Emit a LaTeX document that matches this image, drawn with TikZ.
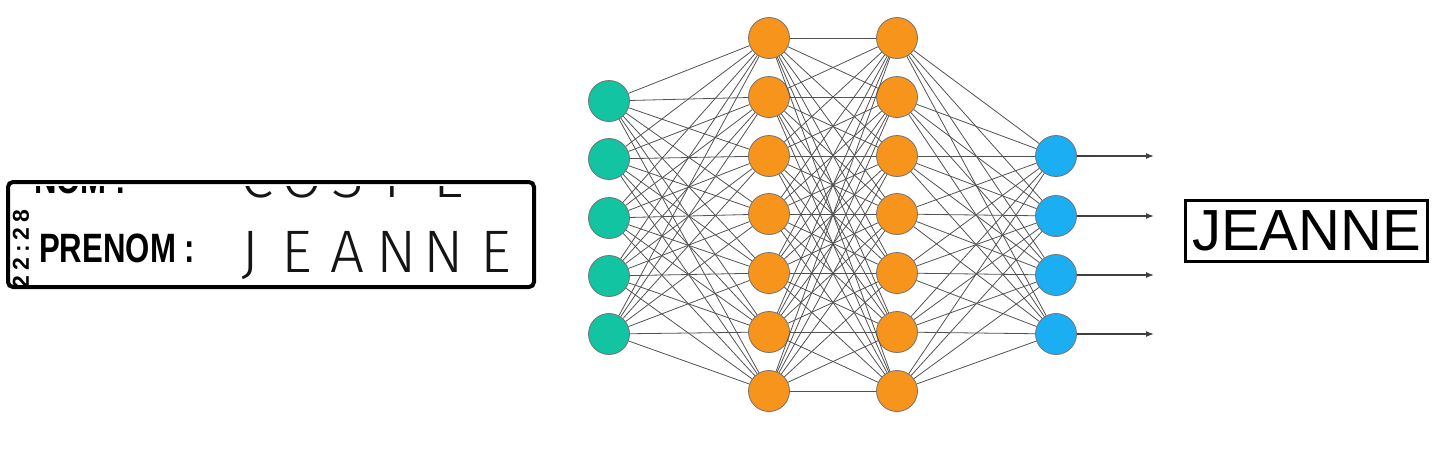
\documentclass[tikz,border=0pt]{standalone}
\usepackage{fontspec}
\setmainfont{Liberation Sans}
\newfontfamily\handfont{Fira Sans Light}
\newfontfamily\formfont[FakeStretch=0.76]{Liberation Sans}
\usetikzlibrary{arrows.meta}
\definecolor{ingreen}{RGB}{18,196,162}
\definecolor{hidorange}{RGB}{247,148,28}
\definecolor{outblue}{RGB}{28,174,242}
\begin{document}
\begin{tikzpicture}
[x=1pt,y=-1pt,
  neuron/.style={shape=circle,minimum size=41pt,inner sep=0pt,draw=black!55,line width=0.8pt},%
  weightline/.style={-,line width=0.8pt,draw=black!68},%
  outarrow/.style={-{Latex[length=8pt,width=6pt]},line width=1.2pt,draw=black!75},%
  handletter/.style={anchor=base,inner sep=0pt,text=black!92,font=\handfont\fontsize{60}{60}\selectfont},%
  formlabel/.style={anchor=base west,inner sep=0pt,font=\formfont\bfseries\fontsize{41}{41}\selectfont}]
\useasboundingbox (0,0) rectangle (1441,466);
%% scanned form
\begin{scope}
\clip (10,186) rectangle (532,285);
\node (nomlabel) at (34,193) [formlabel] {NOM :};
\node (prenomlabel) at (39,262) [formlabel] {PRENOM :};
\node (stamp) at (21,249) [rotate=90,inner sep=0pt,font=\bfseries\fontsize{23}{23}\selectfont\addfontfeature{LetterSpace=22}] {22:28};
\foreach \letter/\x in {C/257, O/302, S/348, T/392, E/449} {
  \node (nom\letter) at (\x,197) [handletter] {\letter};
}
\foreach \letter/\x in {J/250, E/297, A/347, N/397, N/444, E/496} {
  \node (prenom\x) at (\x,272) [handletter] {\letter};
}
\end{scope}
\draw[line width=4pt,rounded corners=5pt] (8,182) rectangle (534,287);
%% nodes or neurons
\foreach \i/\y in {1/101, 2/159, 3/218, 4/276, 5/334} {
  \node (in\i) at (609,\y) [neuron,fill=ingreen] {};
}
\foreach \i/\y in {1/38, 2/97, 3/156, 4/214, 5/273, 6/332, 7/391} {
  \node (ha\i) at (769,\y) [neuron,fill=hidorange] {};
  \node (hb\i) at (897,\y) [neuron,fill=hidorange] {};
}
\foreach \i/\y in {1/156, 2/216, 3/275, 4/334} {
  \node (out\i) at (1056,\y) [neuron,fill=outblue] {};
  \coordinate (end\i) at (1154,\y);
}
%% edges or weights
\path
\foreach \a in {1,...,5} {
  \foreach \b in {1,...,7} {
    (in\a) edge[weightline] (ha\b)
  }
}
\foreach \a in {1,...,7} {
  \foreach \b in {1,...,7} {
    (ha\a) edge[weightline] (hb\b)
  }
}
\foreach \a in {1,...,7} {
  \foreach \b in {1,...,4} {
    (hb\a) edge[weightline] (out\b)
  }
};
\foreach \i in {1,...,4} {
  \draw[outarrow] (out\i) -- (end\i);
}
%% result
\node (result) at (1306.5,231) [draw,line width=3pt,inner sep=0pt,minimum width=242pt,minimum height=61pt,font=\fontsize{58}{58}\selectfont] {JEANNE};
\end{tikzpicture}
\end{document}
